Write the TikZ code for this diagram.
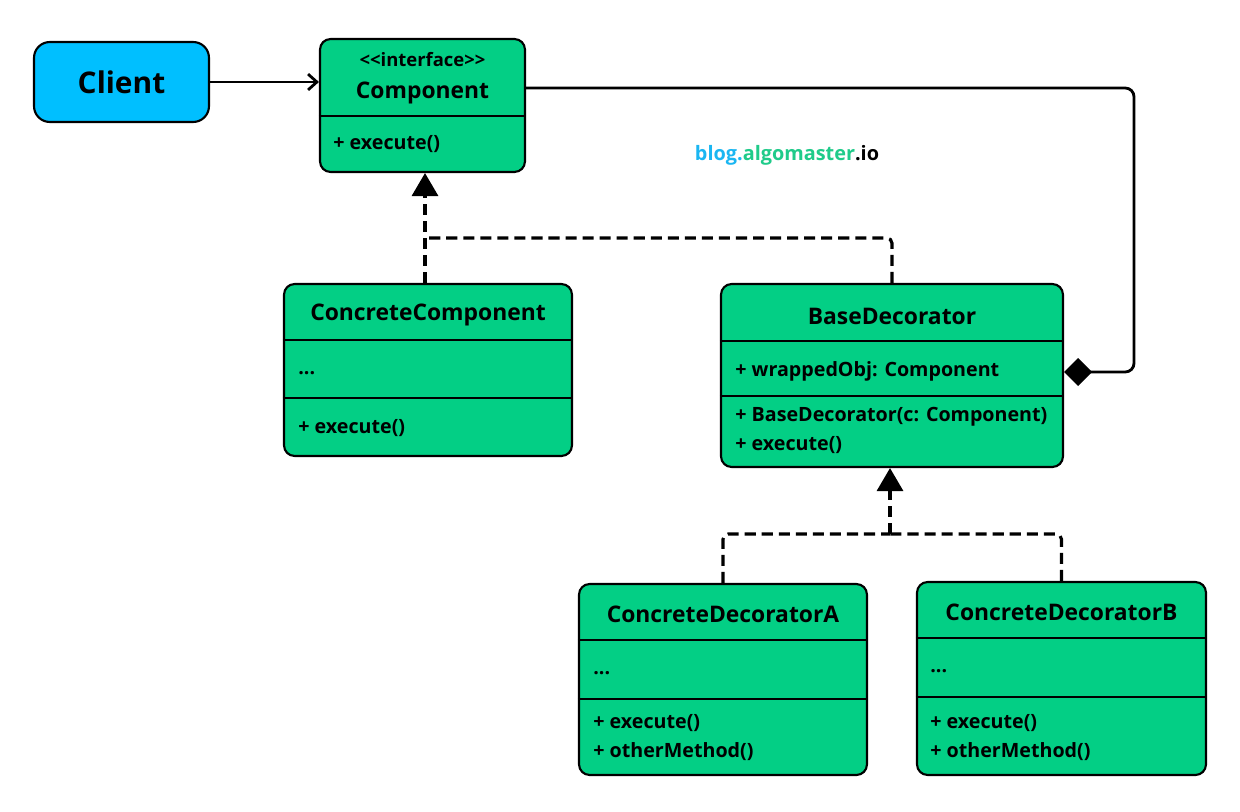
\documentclass[tikz,border=0pt]{standalone}
\usepackage{fontspec}
\setmainfont{Open Sans}
\usepackage{tikz}
\usetikzlibrary{arrows.meta, positioning}

\definecolor{umlgreen}{HTML}{03CF85}
\definecolor{clientblue}{HTML}{00BFFF}
\definecolor{wmblue}{HTML}{1AB6F2}
\definecolor{wmgreen}{HTML}{1FCB8A}

\tikzset{
  cls/.style={draw, line width=1.2pt, rounded corners=6pt, fill=umlgreen, inner sep=0pt},
  ctitle/.style={font=\bfseries\fontsize{13}{15}\selectfont, inner sep=0pt, yshift=-1pt},
  member/.style={font=\bfseries\fontsize{11.2}{13}\selectfont, anchor=west, inner sep=0pt, yshift=-1.5pt},
  dep/.style={line width=1.8pt, dash pattern=on 6.3pt off 3.4pt},
  sep/.style={line width=1.2pt},
}

\begin{document}
\begin{tikzpicture}[x=0.02cm, y=-0.02cm, >=Stealth]

\useasboundingbox[fill=white] (0,0) rectangle (1240,811);

% Client
\node[cls, fill=clientblue, rounded corners=9pt, minimum width=3.5cm, minimum height=1.6cm,
      font=\bfseries\fontsize{17}{20}\selectfont] (client) at (121.5,82) {Client};

% Component (interface)
\node[cls, minimum width=4.1cm, minimum height=2.66cm] (comp) at (422.5,105.5) {};
\draw[sep] (comp.west |- 0,116) -- (comp.east |- 0,116);
\node[font=\bfseries\fontsize{10.5}{12}\selectfont, inner sep=0pt] (comp-st) at (422.5,60) {<{}<interface>{}>};
\node[ctitle] (comp-name) at (422.5,91) {Component};
\node[member] (comp-op1) at (333,141) {+ execute()};

% ConcreteComponent
\node[cls, minimum width=5.76cm, minimum height=3.44cm] (cc) at (428,370) {};
\draw[sep] (cc.west |- 0,340) -- (cc.east |- 0,340);
\draw[sep] (cc.west |- 0,398) -- (cc.east |- 0,398);
\node[ctitle] (cc-name) at (428,313) {ConcreteComponent};
\node[member] (cc-at1) at (298,370) {...};
\node[member] (cc-op1) at (298,425) {+ execute()};

% BaseDecorator
\node[cls, minimum width=6.84cm, minimum height=3.66cm] (bd) at (892,375.5) {};
\draw[sep] (bd.west |- 0,341) -- (bd.east |- 0,341);
\draw[sep] (bd.west |- 0,396) -- (bd.east |- 0,396);
\node[ctitle] (bd-name) at (892,315) {BaseDecorator};
\node[member] (bd-at1) at (735,369) {+ wrappedObj: Component};
\node[member] (bd-op1) at (735,414) {+ BaseDecorator(c: Component)};
\node[member] (bd-op2) at (735,442) {+ execute()};

% ConcreteDecoratorA
\node[cls, minimum width=5.76cm, minimum height=3.82cm] (cda) at (723,679.5) {};
\draw[sep] (cda.west |- 0,640) -- (cda.east |- 0,640);
\draw[sep] (cda.west |- 0,699) -- (cda.east |- 0,699);
\node[ctitle] (cda-name) at (723,613) {ConcreteDecoratorA};
\node[member] (cda-at1) at (593,670) {...};
\node[member] (cda-op1) at (593,720) {+ execute()};
\node[member] (cda-op2) at (593,749) {+ otherMethod()};

% ConcreteDecoratorB
\node[cls, minimum width=5.78cm, minimum height=3.86cm] (cdb) at (1061.5,678.5) {};
\draw[sep] (cdb.west |- 0,638) -- (cdb.east |- 0,638);
\draw[sep] (cdb.west |- 0,697) -- (cdb.east |- 0,697);
\node[ctitle] (cdb-name) at (1061.5,611) {ConcreteDecoratorB};
\node[member] (cdb-at1) at (930,668) {...};
\node[member] (cdb-op1) at (930,720) {+ execute()};
\node[member] (cdb-op2) at (930,749) {+ otherMethod()};

% watermark
\node[font=\bfseries\fontsize{11.3}{13}\selectfont, inner sep=0pt] (wm) at (787,155)
  {\textcolor{wmblue}{blog.}\textcolor{wmgreen}{algomaster}.io};

% client uses component
\draw[line width=1.6pt, -{Straight Barb[length=5pt, width=9pt]}] (client) -- (comp.west |- client);

% wrapped component (aggregation)
\draw[line width=1.6pt, rounded corners=5pt, {Diamond[length=0.56cm, width=0.56cm]}-]
  (bd.east |- 0,372) -- ++(70,0) |- (comp.east |- 0,88);

% realisations of Component
\coordinate (j1) at (425,238);
\draw[dep, -{Triangle[length=0.46cm, width=0.52cm]}] (j1 |- cc.north) -- (j1 |- comp.south);
\draw[dep, rounded corners=3pt] (bd.north) |- (j1);

% subclasses of BaseDecorator
\coordinate (j2) at (890,534);
\draw[dep, -{Triangle[length=0.46cm, width=0.52cm]}] (j2) -- (j2 |- bd.south);
\draw[dep, rounded corners=3pt] (cda.north) |- (j2);
\draw[dep, rounded corners=3pt] (cdb.north) |- (j2);

\end{tikzpicture}
\end{document}
